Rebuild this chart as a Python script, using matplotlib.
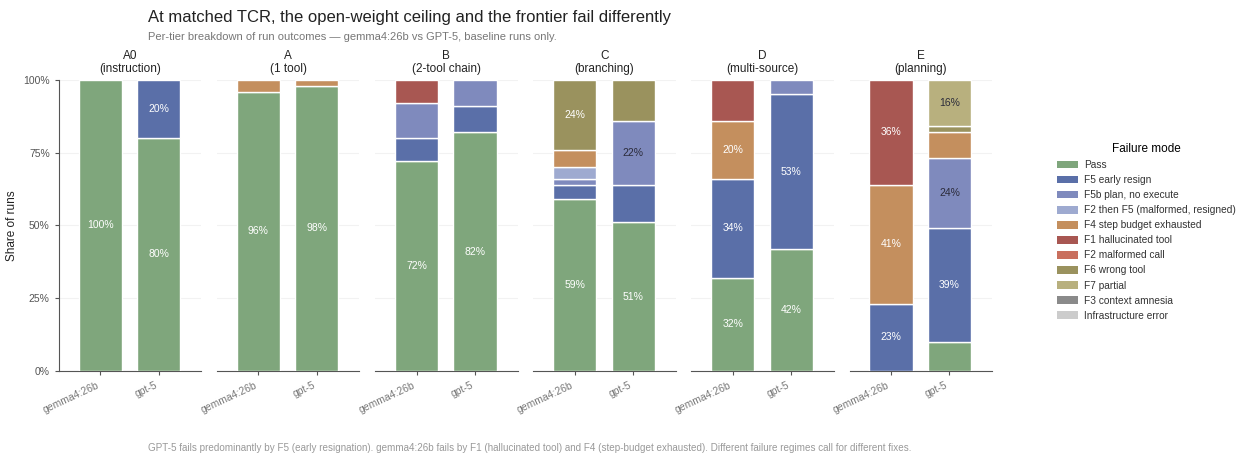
import matplotlib
matplotlib.use("Agg")
import matplotlib.pyplot as plt
from matplotlib.patches import Patch

plt.rcParams.update({"font.family": ["Liberation Sans", "DejaVu Sans"], "axes.spines.top": False, "axes.spines.right": False})

tiers = ["A0", "A", "B", "C", "D", "E"]
tier_desc = ["instruction", "1 tool", "2-tool chain", "branching", "multi-source", "planning"]
models = ["gemma4:26b", "gpt-5"]

# one value per (tier, model): gemma, gpt for A0, A, B, C, D, E
pass_ = [100, 80, 96, 98, 72, 82, 59, 51, 32, 42, 0, 10]
f5 = [0, 20, 0, 0, 8, 9, 5, 13, 34, 53, 23, 39]
f5b = [0, 0, 0, 0, 12, 9, 2, 22, 0, 5, 0, 24]
f2f5 = [0, 0, 0, 0, 0, 0, 4, 0, 0, 0, 0, 0]
f4 = [0, 0, 4, 2, 0, 0, 6, 0, 20, 0, 41, 9]
f1 = [0, 0, 0, 0, 8, 0, 0, 0, 14, 0, 36, 0]
f2 = [0] * 12
f6 = [0, 0, 0, 0, 0, 0, 24, 14, 0, 0, 0, 2]
f7 = [0, 0, 0, 0, 0, 0, 0, 0, 0, 0, 0, 16]
f3 = [0] * 12
infra = [0] * 12

modes = ["Pass", "F5 early resign", "F5b plan, no execute", "F2 then F5 (malformed, resigned)",
         "F4 step budget exhausted", "F1 hallucinated tool", "F2 malformed call", "F6 wrong tool",
         "F7 partial", "F3 context amnesia", "Infrastructure error"]
series = [pass_, f5, f5b, f2f5, f4, f1, f2, f6, f7, f3, infra]
colors = ["#7fa67c", "#5a6fa8", "#7f8abd", "#9eaad0", "#c48f5e", "#a85752", "#c96f5e",
          "#9a925e", "#b8b07e", "#8a8a8a", "#cccccc"]
dark_text = {"F5b plan, no execute", "F2 then F5 (malformed, resigned)", "F7 partial", "Infrastructure error"}

fig, axes = plt.subplots(1, 6, figsize=(12.51, 4.59), dpi=100, sharey=True)
fig.subplots_adjust(left=0.047, right=0.793, bottom=0.192, top=0.826, wspace=0.11)

for t, ax in enumerate(axes):
    for m in range(2):
        bottom = 0
        for name, vals, col in zip(modes, series, colors):
            v = vals[2 * t + m]
            if v <= 0:
                continue
            ax.bar(m, v, 0.74, bottom=bottom, color=col, edgecolor="white", linewidth=1, zorder=3)
            if v >= 15:
                ax.text(m, bottom + v / 2, f"{v}%", ha="center", va="center", fontsize=7.5,
                        color="#2b2b3a" if name in dark_text else "white", zorder=4)
            bottom += v
    ax.set_xlim(-0.71, 1.73)
    ax.set_ylim(0, 100)
    ax.set_xticks([0, 1])
    ax.set_xticklabels(models, rotation=25, ha="right", fontsize=7.5, color="#777777")
    ax.set_title(f"{tiers[t]}\n({tier_desc[t]})", fontsize=8.5, color="#222222", pad=6, linespacing=1.1)
    ax.set_yticks([0, 25, 50, 75, 100])
    ax.grid(axis="y", color="#f2f2f2", linewidth=0.8, zorder=0)
    ax.spines["bottom"].set_color("#555555")
    ax.tick_params(axis="x", length=3, color="#555555")
    if t == 0:
        ax.spines["left"].set_color("#555555")
        ax.set_yticklabels(["0%", "25%", "50%", "75%", "100%"], fontsize=7.5, color="#555555")
        ax.tick_params(axis="y", length=3, color="#555555")
        ax.set_ylabel("Share of runs", fontsize=8.5, color="#222222")
    else:
        ax.spines["left"].set_visible(False)
        ax.tick_params(axis="y", length=0)

handles = [Patch(facecolor=c, edgecolor="none", label=n) for n, c in zip(modes, colors)]
leg = fig.legend(handles=handles, loc="center left", bbox_to_anchor=(0.838, 0.495), frameon=False,
                 fontsize=7.3, title="Failure mode", title_fontsize=8.5, labelspacing=0.5,
                 handlelength=2.0, handleheight=0.8, handletextpad=0.6)
for txt in leg.get_texts():
    txt.set_color("#333333")

fig.text(0.118, 0.978, "At matched TCR, the open-weight ceiling and the frontier fail differently",
         fontsize=12, color="#222222", va="top")
fig.text(0.118, 0.93, "Per-tier breakdown of run outcomes \u2014 gemma4:26b vs GPT-5, baseline runs only.",
         fontsize=8, color="#777777", va="top")
fig.text(0.118, 0.014, "GPT-5 fails predominantly by F5 (early resignation). gemma4:26b fails by F1 (hallucinated tool) "
         "and F4 (step-budget exhausted). Different failure regimes call for different fixes.",
         fontsize=7.1, color="#999999", va="bottom")

fig.savefig("out.png", dpi=100)
